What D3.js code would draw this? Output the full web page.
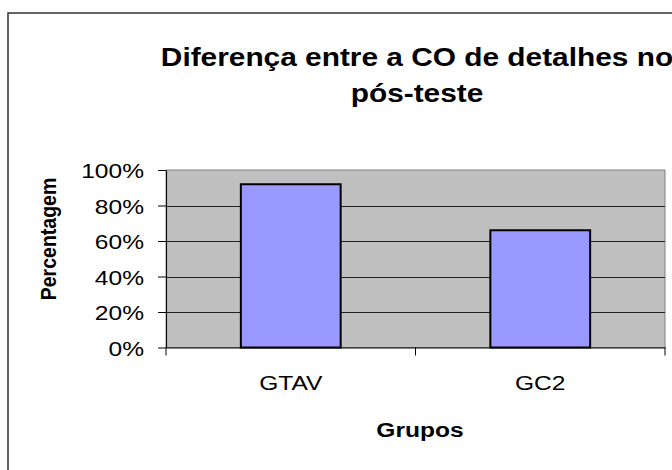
<!DOCTYPE html>
<html lang="pt">
<head>
    <meta charset="UTF-8">
    <title>Diferença entre a CO de detalhes no pós-teste</title>
    <script src="https://d3js.org/d3.v7.min.js"></script>
    <style>
        html, body { margin: 0; padding: 0; background: #fff; }
        svg { display: block; }
        text { font-family: "Liberation Sans", Arial, Helvetica, sans-serif; fill: #000; }
    </style>
</head>
<body>

<div id="chart"></div>
<script>

  // Chart data
  const categories = ["GTAV", "GC2"];
  const values = [92, 66];           // percent
  const yTicks = [0, 20, 40, 60, 80, 100];
  const titleLines = ["Diferença entre a CO de detalhes no", "pós-teste"];
  const xTitle = "Grupos";
  const yTitle = "Percentagem";

  // The original chart looks stretched horizontally, so draw in a narrower
  // coordinate space and let the viewBox stretch it out
  const SX = 1.17;
  const pageW = 672, pageH = 470;
  const W = pageW / SX;
  const px = v => v / SX;   // page x -> internal x

  const plot = { left: px(166), right: px(665), top: 170, bottom: 347.5 };

  const svg = d3.select("#chart")
    .append("svg")
      .attr("width", pageW)
      .attr("height", pageH)
      .attr("viewBox", `0 0 ${W} ${pageH}`)
      .attr("preserveAspectRatio", "none");

  // Outer chart frame (runs off the right and bottom of the page)
  svg.append("rect")
    .attr("x", px(8))
    .attr("y", 13)
    .attr("width", W)
    .attr("height", pageH)
    .attr("fill", "#fff")
    .attr("stroke", "#333")
    .attr("stroke-width", 1.5)
    .attr("vector-effect", "non-scaling-stroke");

  // Scales
  const x = d3.scaleBand()
    .domain(categories)
    .range([plot.left, plot.right])
    .paddingInner(0.6)
    .paddingOuter(0.3);

  const y = d3.scaleLinear()
    .domain([0, 100])
    .range([plot.bottom, plot.top]);

  // Plot area background
  svg.append("rect")
    .attr("x", plot.left)
    .attr("y", plot.top)
    .attr("width", plot.right - plot.left)
    .attr("height", plot.bottom - plot.top)
    .attr("fill", "#c0c0c0")
    .attr("stroke", "#808080")
    .attr("stroke-width", 1)
    .attr("vector-effect", "non-scaling-stroke");

  // Gridlines
  svg.append("g")
    .selectAll("line")
    .data(yTicks.filter(d => d > 0 && d < 100))
    .join("line")
      .attr("x1", plot.left)
      .attr("x2", plot.right)
      .attr("y1", d => Math.round(y(d)) + 0.5)
      .attr("y2", d => Math.round(y(d)) + 0.5)
      .attr("stroke", "#222")
      .attr("stroke-width", 1)
      .attr("vector-effect", "non-scaling-stroke");

  // Bars
  svg.selectAll("rect.bar")
    .data(values)
    .join("rect")
      .attr("class", "bar")
      .attr("x", (d, i) => x(categories[i]))
      .attr("y", d => y(d))
      .attr("width", x.bandwidth())
      .attr("height", d => y(0) - y(d))
      .attr("fill", "#9999ff")
      .attr("stroke", "#000")
      .attr("stroke-width", 2)
      .attr("vector-effect", "non-scaling-stroke");

  // Y axis
  const yAxis = svg.append("g")
    .attr("transform", `translate(${plot.left},0)`)
    .call(d3.axisLeft(y)
      .tickValues(yTicks)
      .tickFormat(d => d + "%")
      .tickSize(px(8))
      .tickSizeOuter(0)
      .tickPadding(px(14)));
  yAxis.select(".domain").attr("stroke", "#000").attr("vector-effect", "non-scaling-stroke");
  yAxis.selectAll(".tick line").attr("stroke", "#000").attr("vector-effect", "non-scaling-stroke");
  yAxis.selectAll(".tick text")
    .style("font-size", "21px")
    .style("font-family", "'Liberation Sans', Arial, sans-serif")
    .attr("dy", "0.36em");

  // X axis (labels at band centres, ticks at band edges like Excel)
  const xAxis = svg.append("g")
    .attr("transform", `translate(0,${plot.bottom})`)
    .call(d3.axisBottom(x).tickSize(0).tickSizeOuter(0).tickPadding(28));
  xAxis.select(".domain").attr("stroke", "#000").attr("vector-effect", "non-scaling-stroke");
  xAxis.selectAll(".tick text")
    .style("font-size", "21px")
    .style("font-family", "'Liberation Sans', Arial, sans-serif");

  const edges = categories.map(c => x(c) + x.bandwidth() / 2 - x.step() / 2).concat([plot.right]);
  svg.append("g")
    .selectAll("line")
    .data(edges)
    .join("line")
      .attr("x1", d => d)
      .attr("x2", d => d)
      .attr("y1", plot.bottom)
      .attr("y2", plot.bottom + 8)
      .attr("stroke", "#000")
      .attr("vector-effect", "non-scaling-stroke");

  // Title
  svg.append("text")
    .attr("text-anchor", "middle")
    .style("font-size", "25.5px")
    .style("font-weight", "bold")
    .selectAll("tspan")
    .data(titleLines)
    .join("tspan")
      .attr("x", px(417))
      .attr("y", (d, i) => 66 + i * 36)
      .text(d => d);

  // Axis titles
  svg.append("text")
    .attr("text-anchor", "middle")
    .attr("x", px(420))
    .attr("y", 437.5)
    .style("font-size", "21px")
    .style("font-weight", "bold")
    .text(xTitle);

  svg.append("text")
    .attr("text-anchor", "middle")
    .attr("transform", `translate(${px(56)},239) rotate(-90)`)
    .style("font-size", "19.5px")
    .style("font-weight", "bold")
    .text(yTitle);

</script>

</body>
</html>
